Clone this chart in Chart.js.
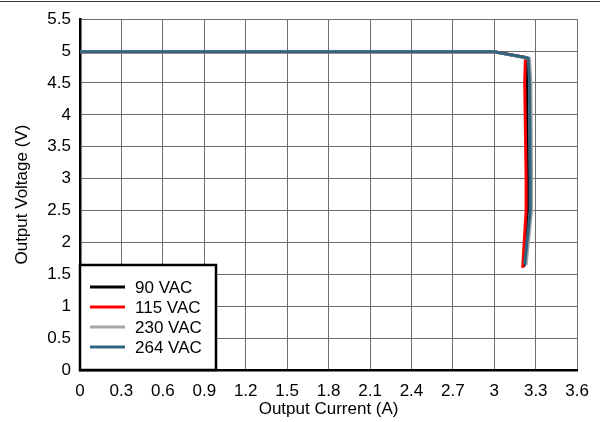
<!DOCTYPE html>
<html>
<head>
<meta charset="utf-8">
<script src="https://cdn.jsdelivr.net/npm/chart.js@4"></script>
<style>
  html, body { margin: 0; padding: 0; background: #fff; }
  #wrap { width: 600px; height: 422px; position: relative; }
</style>
</head>
<body>
<div id="wrap"><canvas id="outputChart" width="600" height="422"></canvas></div>
<script>
// Output current (A) / output voltage (V)
var xTicks = [0, 0.3, 0.6, 0.9, 1.2, 1.5, 1.8, 2.1, 2.4, 2.7, 3, 3.3, 3.6];
var yTicks = [0, 0.5, 1, 1.5, 2, 2.5, 3, 3.5, 4, 4.5, 5, 5.5];

var seriesNames = ['90 VAC', '115 VAC', '230 VAC', '264 VAC'];
var seriesColors = ['#000000', '#ff0000', '#a6a6a6', '#2f6580'];

var current90 = [0, 3.0, 3.23, 3.235, 3.24, 3.24, 3.215];
var voltage90 = [4.99, 4.99, 4.9, 4.5, 3.0, 2.5, 1.62];
var current115 = [0, 3.0, 3.225, 3.22, 3.23, 3.23, 3.205];
var voltage115 = [4.99, 4.99, 4.9, 4.5, 3.0, 2.5, 1.6];
var current230 = [0, 3.0, 3.255, 3.265, 3.27, 3.27, 3.23];
var voltage230 = [4.99, 4.99, 4.88, 4.5, 3.0, 2.5, 1.65];
var current264 = [0, 3.0, 3.245, 3.255, 3.26, 3.26, 3.22];
var voltage264 = [4.99, 4.99, 4.89, 4.5, 3.0, 2.5, 1.65];

function pts(xs, ys) {
    return xs.map(function (x, i) { return { x: x, y: ys[i] }; });
}

var FONT = { family: 'Arial, "Liberation Sans", sans-serif', size: 17 };

// legend drawn inside the plot, bottom-left, boxed
var boxLegend = {
    id: 'boxLegend',
    afterDatasetsDraw: function (chart) {
        var ctx = chart.ctx, a = chart.chartArea;
        var x0 = a.left, y1 = a.bottom, w = 136, h = 105;
        ctx.save();
        ctx.fillStyle = '#fff';
        ctx.fillRect(x0, y1 - h, w, h);
        ctx.strokeStyle = '#000';
        ctx.lineWidth = 2.5;
        ctx.strokeRect(x0, y1 - h, w, h);
        ctx.font = FONT.size + 'px ' + FONT.family;
        ctx.textBaseline = 'middle';
        chart.data.datasets.forEach(function (ds, i) {
            var y = y1 - h + 22 + i * 20;
            ctx.strokeStyle = ds.borderColor;
            ctx.lineWidth = 3;
            ctx.beginPath();
            ctx.moveTo(x0 + 10, y);
            ctx.lineTo(x0 + 45, y);
            ctx.stroke();
            ctx.fillStyle = '#000';
            ctx.fillText(ds.label, x0 + 55, y + 1);
        });
        ctx.restore();
    },
    afterDraw: function (chart) {
        var ctx = chart.ctx;
        ctx.save();
        ctx.strokeStyle = '#333';
        ctx.lineWidth = 1;
        ctx.beginPath();
        ctx.moveTo(0, 1.5);
        ctx.lineTo(600, 1.5);
        ctx.stroke();
        ctx.restore();
    }
};

var allX = [current90, current115, current230, current264];
var allY = [voltage90, voltage115, voltage230, voltage264];

var ctx = document.getElementById('outputChart').getContext('2d');
var outputChart = new Chart(ctx, {
    type: 'scatter',
    data: {
        datasets: seriesNames.map(function (name, i) {
            return {
                label: name,
                data: pts(allX[i], allY[i]),
                showLine: true,
                borderColor: seriesColors[i],
                backgroundColor: seriesColors[i],
                borderWidth: 3,
                pointRadius: 0,
                tension: 0,
                order: 4 - i
            };
        })
    },
    options: {
        responsive: false,
        animation: false,
        layout: { padding: { top: 18, right: 22, left: 0, bottom: 0 } },
        plugins: {
            legend: { display: false },
            tooltip: { enabled: false }
        },
        scales: {
            x: {
                type: 'linear',
                min: xTicks[0],
                max: xTicks[xTicks.length - 1],
                afterBuildTicks: function (s) { s.ticks = xTicks.map(function (v) { return { value: v }; }); },
                afterFit: function (s) { s.height = 52; },
                ticks: {
                    color: '#000', font: FONT, padding: 11, maxRotation: 0, autoSkip: false,
                    callback: function (v) { return String(v); }
                },
                grid: { color: '#6e6e6e', lineWidth: 1, drawTicks: false },
                border: { color: '#000', width: 2.5 },
                title: { display: true, text: 'Output Current (A)', color: '#000', font: FONT, padding: { top: 2, bottom: 2 } }
            },
            y: {
                type: 'linear',
                min: yTicks[0],
                max: yTicks[yTicks.length - 1],
                afterBuildTicks: function (s) { s.ticks = yTicks.map(function (v) { return { value: v }; }); },
                afterFit: function (s) { s.width = 80; },
                ticks: {
                    color: '#000', font: FONT, padding: 9, autoSkip: false,
                    callback: function (v) { return String(v); }
                },
                grid: { color: '#6e6e6e', lineWidth: 1, drawTicks: false },
                border: { color: '#000', width: 2.5 },
                title: { display: true, text: 'Output Voltage (V)', color: '#000', font: FONT, padding: { top: 12, bottom: 12 } }
            }
        }
    },
    plugins: [boxLegend]
});
</script>
</body>
</html>
